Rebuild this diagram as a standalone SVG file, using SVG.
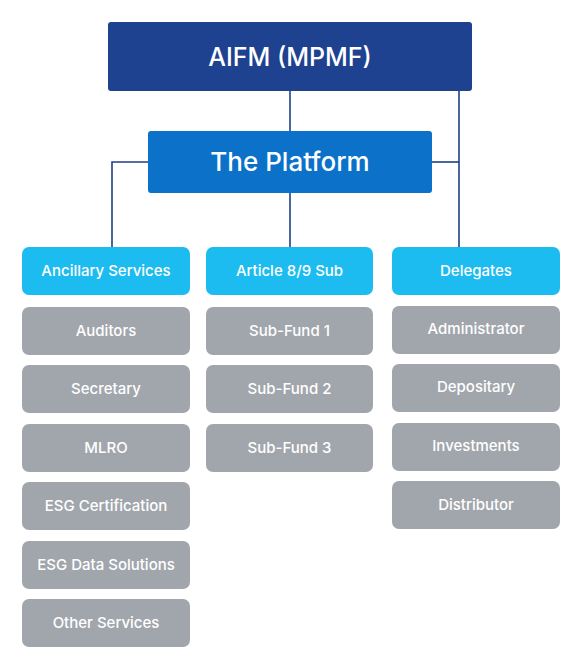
<svg xmlns="http://www.w3.org/2000/svg" width="576" height="668" viewBox="0 0 576 668">
<style>
.t{font-family:Inter,"Noto Sans",sans-serif;fill:#fff;text-anchor:middle;dominant-baseline:central}
.big{font-size:25px;font-weight:500}
.sm{font-size:15px;font-weight:500}
.g{fill:#a1a6ac}
.c{fill:#1cbcf0}
.ln{stroke:#1f3f86;stroke-width:1.6;fill:none}
</style>
<rect width="576" height="668" fill="#fff"/>
<g id="connectors">
<path class="ln" d="M290 91V131"/>
<path class="ln" d="M459 91V248"/>
<path class="ln" d="M432 162H459"/>
<path class="ln" d="M148 162H112V248"/>
<path class="ln" d="M290 193V248"/>
</g>
<g id="aifm"><rect x="108" y="22" width="364" height="69" rx="3" fill="#1e4290"/><text class="t big" x="290" y="57">AIFM (MPMF)</text></g>
<g id="platform"><rect x="148" y="131" width="284" height="62" rx="3" fill="#0b71c9"/><text class="t big" x="290" y="161" style="font-size:26px">The Platform</text></g>
<g id="ancillary"><rect class="c" x="22" y="247" width="168" height="48" rx="7"/><text class="t sm" x="106" y="270">Ancillary Services</text></g>
<g id="article"><rect class="c" x="206" y="247" width="167" height="48" rx="7"/><text class="t sm" x="289.5" y="270">Article 8/9 Sub</text></g>
<g id="delegates"><rect class="c" x="392" y="247" width="168" height="48" rx="7"/><text class="t sm" x="476" y="270">Delegates</text></g>
<g id="auditors"><rect class="g" x="22" y="307" width="168" height="48" rx="7"/><text class="t sm" x="106" y="330">Auditors</text></g>
<g id="secretary"><rect class="g" x="22" y="365" width="168" height="48" rx="7"/><text class="t sm" x="106" y="388">Secretary</text></g>
<g id="mlro"><rect class="g" x="22" y="424" width="168" height="48" rx="7"/><text class="t sm" x="106" y="447">MLRO</text></g>
<g id="esgcert"><rect class="g" x="22" y="482" width="168" height="48" rx="7"/><text class="t sm" x="106" y="505">ESG Certification</text></g>
<g id="esgdata"><rect class="g" x="22" y="541" width="168" height="48" rx="7"/><text class="t sm" x="106" y="564">ESG Data Solutions</text></g>
<g id="other"><rect class="g" x="22" y="599" width="168" height="48" rx="7"/><text class="t sm" x="106" y="622">Other Services</text></g>
<g id="sub1"><rect class="g" x="206" y="307" width="167" height="48" rx="7"/><text class="t sm" x="289.5" y="330">Sub-Fund 1</text></g>
<g id="sub2"><rect class="g" x="206" y="365" width="167" height="48" rx="7"/><text class="t sm" x="289.5" y="388">Sub-Fund 2</text></g>
<g id="sub3"><rect class="g" x="206" y="424" width="167" height="48" rx="7"/><text class="t sm" x="289.5" y="447">Sub-Fund 3</text></g>
<g id="administrator"><rect class="g" x="392" y="306" width="168" height="48" rx="7"/><text class="t sm" x="476" y="328">Administrator</text></g>
<g id="depositary"><rect class="g" x="392" y="364" width="168" height="48" rx="7"/><text class="t sm" x="476" y="386">Depositary</text></g>
<g id="investments"><rect class="g" x="392" y="423" width="168" height="48" rx="7"/><text class="t sm" x="476" y="445">Investments</text></g>
<g id="distributor"><rect class="g" x="392" y="481" width="168" height="48" rx="7"/><text class="t sm" x="476" y="504">Distributor</text></g>
</svg>
